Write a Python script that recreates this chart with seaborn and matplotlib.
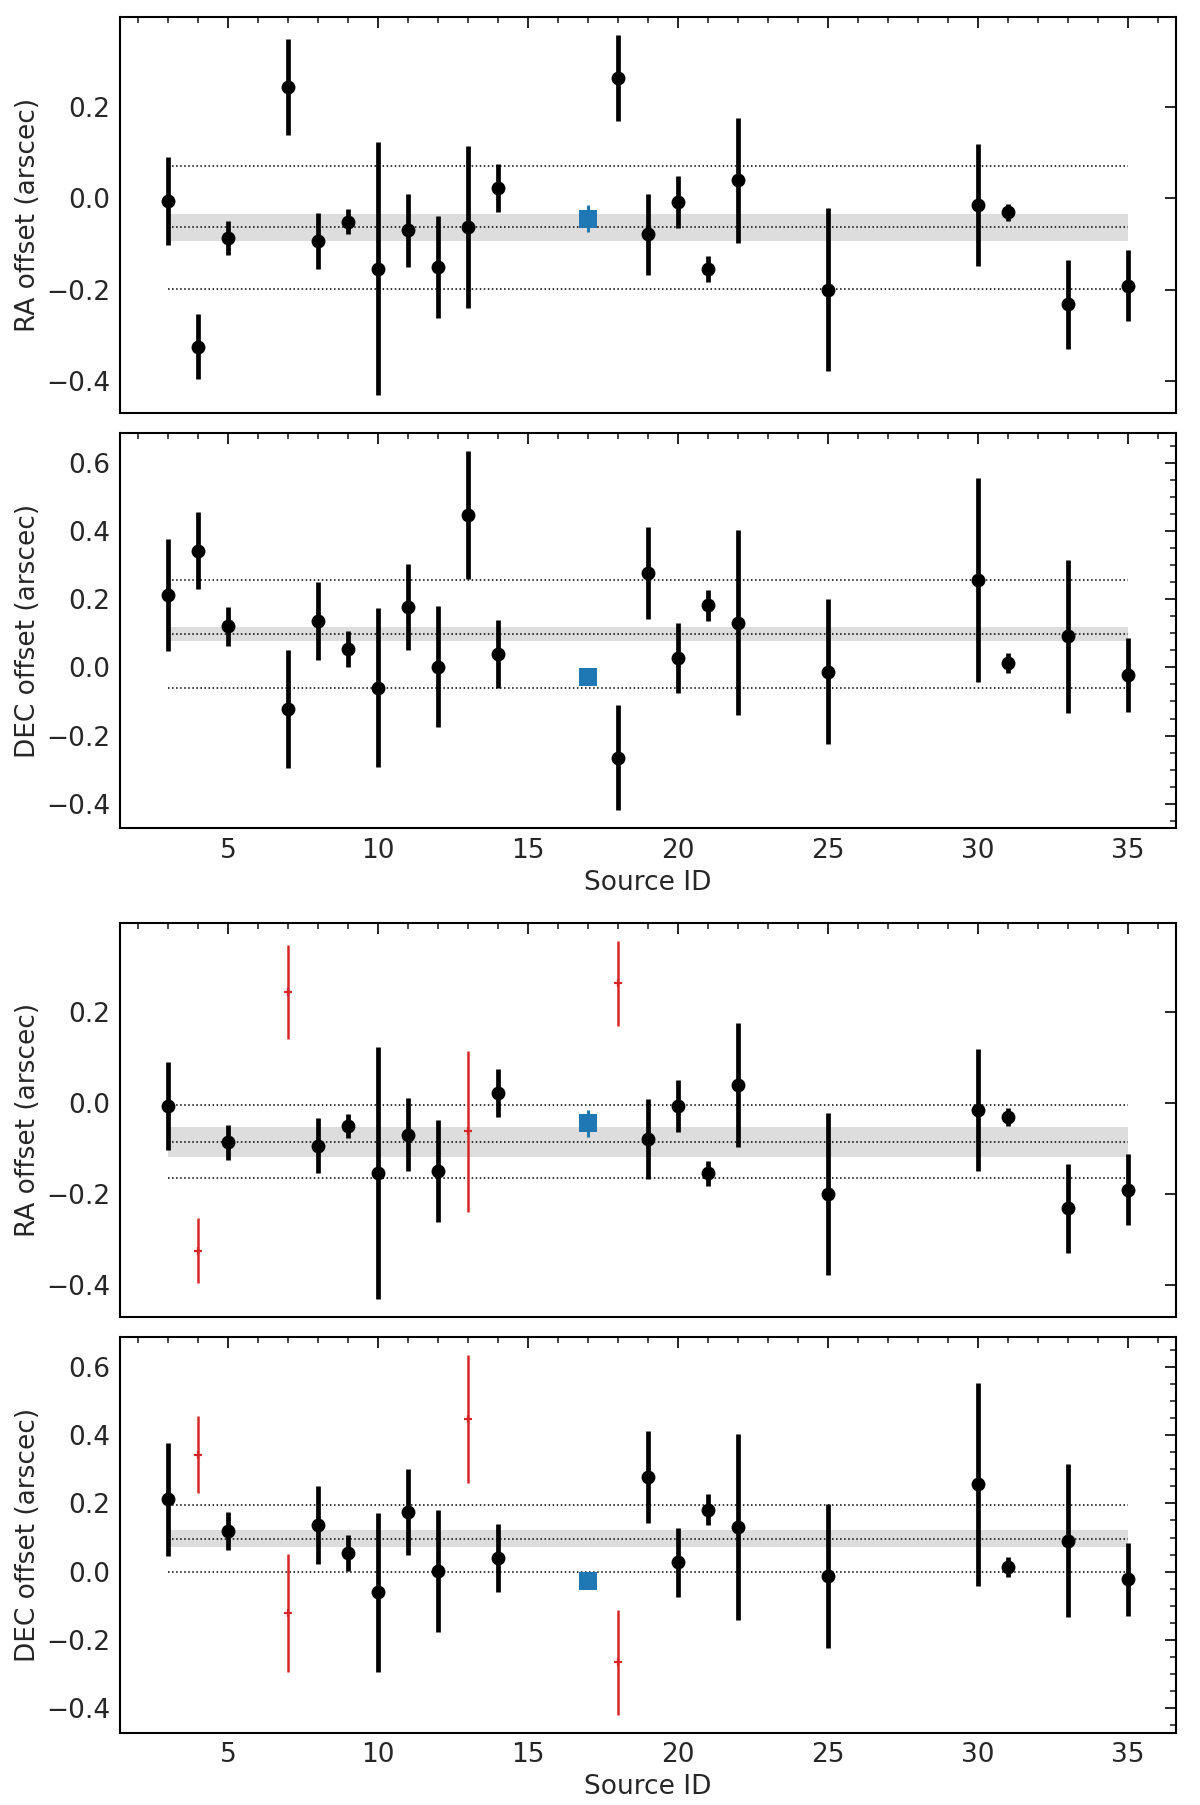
import matplotlib
matplotlib.use("Agg")
import matplotlib.pyplot as plt
from matplotlib.ticker import MultipleLocator, NullLocator
import numpy as np
import pandas as pd
import seaborn as sns

# source IDs and measured offsets (arcsec)
ids = [3, 4, 5, 7, 8, 9, 10, 11, 12, 13, 14, 18, 19, 20, 21, 22, 25, 30, 31, 33, 35]
ra = [-0.007, -0.325, -0.087, 0.243, -0.094, -0.051, -0.154, -0.070, -0.150, -0.063, 0.022,
      0.262, -0.079, -0.008, -0.155, 0.039, -0.200, -0.015, -0.031, -0.232, -0.191]
ra_err = [0.096, 0.071, 0.038, 0.104, 0.061, 0.027, 0.277, 0.080, 0.112, 0.177, 0.053,
          0.094, 0.088, 0.057, 0.028, 0.136, 0.178, 0.134, 0.019, 0.097, 0.078]
dec = [0.212, 0.342, 0.120, -0.122, 0.136, 0.054, -0.060, 0.176, 0.002, 0.447, 0.039,
       -0.265, 0.277, 0.027, 0.182, 0.131, -0.013, 0.256, 0.013, 0.091, -0.023]
dec_err = [0.165, 0.113, 0.056, 0.173, 0.115, 0.052, 0.233, 0.126, 0.178, 0.188, 0.100,
           0.154, 0.134, 0.102, 0.045, 0.272, 0.212, 0.298, 0.030, 0.225, 0.108]
outliers = [4, 7, 13, 18]

# reference source
ref_id = 17
ref_ra, ref_ra_err = -0.045, 0.030
ref_dec, ref_dec_err = -0.027, 0.010

# mean, scatter and uncertainty of mean: (all sources, clipped)
ra_stats = [(-0.064, 0.135, 0.030), (-0.086, 0.080, 0.033)]
dec_stats = [(0.097, 0.158, 0.021), (0.097, 0.098, 0.025)]

df = pd.DataFrame({"id": ids, "ra": ra, "ra_err": ra_err, "dec": dec, "dec_err": dec_err})
df["out"] = df["id"].isin(outliers)

sns.set_style("white")
plt.rcParams["font.family"] = ["DejaVu Sans"]
plt.rcParams["font.size"] = 19

fig = plt.figure(figsize=(12, 18.05), dpi=100)
boxes = [[0.1, 0.7710, 0.88, 0.2194], [0.1, 0.5411, 0.88, 0.2192],
         [0.1, 0.2704, 0.88, 0.2184], [0.1, 0.0401, 0.88, 0.2192]]


def draw_panel(ax, col, ecol, ref_val, ref_err, stats, clip, ylabel, minor_y, xlabel):
    mean, std, sem = stats
    x0, x1 = min(ids), max(ids)
    ax.fill_between([x0, x1], mean - sem, mean + sem, color="#dddddd", lw=0, zorder=0)
    for lev in (mean - std, mean, mean + std):
        ax.plot([x0, x1], [lev, lev], ls=":", color="black", lw=1.1, zorder=1)

    if clip:
        good = df[~df["out"]]
        bad = df[df["out"]]
    else:
        good = df
        bad = df.iloc[0:0]

    ax.errorbar(good["id"], good[col], yerr=good[ecol], fmt="none", ecolor="black",
                elinewidth=3.4, zorder=3)
    sns.scatterplot(data=good, x="id", y=col, ax=ax, color="black", s=100,
                    linewidth=0, zorder=4, legend=False)
    if len(bad):
        ax.errorbar(bad["id"], bad[col], yerr=bad[ecol], fmt="+", color="tab:red",
                    ecolor="tab:red", elinewidth=1.8, ms=6, mew=1.6, zorder=3)

    ax.errorbar([ref_id], [ref_val], yerr=[ref_err], fmt="none", ecolor="tab:blue",
                elinewidth=2.2, zorder=5)
    sns.scatterplot(x=[ref_id], y=[ref_val], ax=ax, color="tab:blue", marker="s",
                    s=180, linewidth=0, zorder=6, legend=False)

    ax.xaxis.set_major_locator(MultipleLocator(5))
    ax.xaxis.set_minor_locator(MultipleLocator(1))
    ax.yaxis.set_major_locator(MultipleLocator(0.2))
    if minor_y:
        ax.yaxis.set_minor_locator(MultipleLocator(0.05))
    else:
        ax.yaxis.set_minor_locator(NullLocator())
    ax.tick_params(which="both", direction="in", top=True, right=True, labelsize=19)
    ax.tick_params(which="major", length=8, width=1.4, pad=7)
    ax.tick_params(which="minor", length=4.5, width=1.2)
    for s in ax.spines.values():
        s.set_linewidth(1.5)
        s.set_color("black")
    ax.set_ylabel(ylabel, fontsize=19)
    if xlabel:
        ax.set_xlabel("Source ID", fontsize=19)
    else:
        ax.set_xlabel("")
        ax.tick_params(labelbottom=False)


ax1 = fig.add_axes(boxes[0])
draw_panel(ax1, "ra", "ra_err", ref_ra, ref_ra_err, ra_stats[0], False,
           "RA offset (arscec)", False, False)
ax2 = fig.add_axes(boxes[1])
draw_panel(ax2, "dec", "dec_err", ref_dec, ref_dec_err, dec_stats[0], False,
           "DEC offset (arscec)", True, True)
ax3 = fig.add_axes(boxes[2])
draw_panel(ax3, "ra", "ra_err", ref_ra, ref_ra_err, ra_stats[1], True,
           "RA offset (arscec)", False, False)
ax4 = fig.add_axes(boxes[3])
draw_panel(ax4, "dec", "dec_err", ref_dec, ref_dec_err, dec_stats[1], True,
           "DEC offset (arscec)", True, True)

# keep paired panels on identical ranges
for a, b in ((ax1, ax3), (ax2, ax4)):
    lo = min(a.get_ylim()[0], b.get_ylim()[0])
    hi = max(a.get_ylim()[1], b.get_ylim()[1])
    a.set_ylim(lo, hi)
    b.set_ylim(lo, hi)
for a in (ax1, ax2, ax3, ax4):
    a.set_xlim(1.4, 36.6)

fig.savefig("out.png", dpi=100)
